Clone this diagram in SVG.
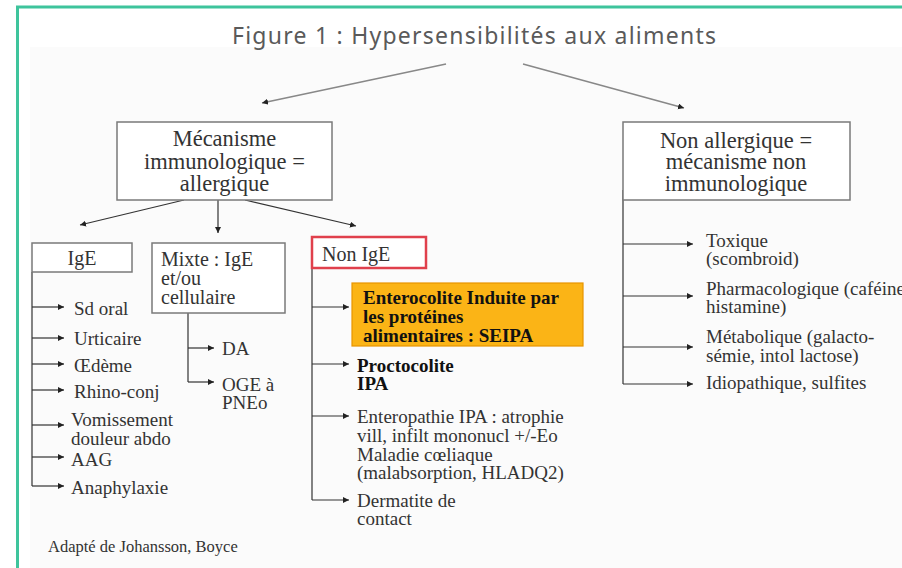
<svg xmlns="http://www.w3.org/2000/svg" width="902" height="568" viewBox="0 0 902 568">
<defs>
<marker id="ah" markerUnits="userSpaceOnUse" markerWidth="8" markerHeight="8" refX="6" refY="3" orient="auto">
<path d="M0,0 L6,3 L0,6 Z" fill="#222"/>
</marker>
<style>
.box{fill:#fff;stroke:#7a7a7a;stroke-width:1.5}
.t{font-family:"Liberation Serif","Times New Roman",serif;fill:#333}
.big{font-size:22.5px}
.mid{font-size:20px}
.sm{font-size:19px}
.b{font-weight:bold;fill:#111}
.c{stroke:#333;stroke-width:1.2;fill:none}
.ca{stroke:#333;stroke-width:1.2;fill:none;marker-end:url(#ah)}
.ta{stroke:#888;stroke-width:1.6;fill:none;marker-end:url(#ah)}
</style>
</defs>
<rect width="902" height="568" fill="#fff"/>
<rect x="30" y="47" width="872" height="521" fill="#fbfbfb"/>
<path d="M17.5,568 V7 H902" fill="none" stroke="#3ec49c" stroke-width="3"/>
<text x="232" y="44" textLength="484" font-family="'Noto Sans',sans-serif" font-size="23" fill="#5a5a5a">Figure 1 : Hypersensibilités aux aliments</text>

<g id="connectors">
<line class="ta" x1="446" y1="64" x2="262" y2="103"/>
<line class="ta" x1="523" y1="64" x2="684" y2="108"/>
<line class="ca" x1="184" y1="200" x2="80" y2="225"/>
<line class="ca" x1="218" y1="200" x2="218" y2="233"/>
<line class="ca" x1="245" y1="200" x2="356" y2="226"/>
<!-- IgE -->
<line class="c" x1="32" y1="272" x2="32" y2="486"/>
<line class="ca" x1="32" y1="307" x2="64" y2="307"/>
<line class="ca" x1="32" y1="338" x2="64" y2="338"/>
<line class="ca" x1="32" y1="364" x2="64" y2="364"/>
<line class="ca" x1="32" y1="390" x2="64" y2="390"/>
<line class="ca" x1="32" y1="425" x2="64" y2="425"/>
<line class="ca" x1="32" y1="457" x2="64" y2="457"/>
<line class="ca" x1="32" y1="486" x2="64" y2="486"/>
<!-- Mixte -->
<line class="c" x1="188" y1="313" x2="188" y2="382"/>
<line class="ca" x1="188" y1="348" x2="214" y2="348"/>
<line class="ca" x1="188" y1="382" x2="214" y2="382"/>
<!-- Non IgE -->
<line class="c" x1="312" y1="268" x2="312" y2="500"/>
<line class="ca" x1="312" y1="307" x2="349" y2="307"/>
<line class="ca" x1="312" y1="364" x2="349" y2="364"/>
<line class="ca" x1="312" y1="416" x2="349" y2="416"/>
<line class="ca" x1="312" y1="500" x2="349" y2="500"/>
<!-- Non allergique -->
<line class="c" x1="623" y1="190" x2="623" y2="384"/>
<line class="ca" x1="623" y1="244" x2="693" y2="244"/>
<line class="ca" x1="623" y1="296" x2="693" y2="296"/>
<line class="ca" x1="623" y1="347" x2="693" y2="347"/>
<line class="ca" x1="623" y1="384" x2="693" y2="384"/>
</g>

<g id="n-meca">
<rect class="box" x="117" y="122" width="215" height="78"/>
<text class="t big" text-anchor="middle" x="224.5" y="146">Mécanisme</text>
<text class="t big" text-anchor="middle" x="224.5" y="169">immunologique =</text>
<text class="t big" text-anchor="middle" x="224.5" y="191">allergique</text>
</g>

<g id="n-nonallerg">
<rect class="box" x="623" y="122" width="227" height="78"/>
<text class="t big" text-anchor="middle" x="736" y="148">Non allergique =</text>
<text class="t big" text-anchor="middle" x="736" y="169">mécanisme non</text>
<text class="t big" text-anchor="middle" x="736" y="191">immunologique</text>
</g>

<g id="n-ige">
<rect class="box" x="32" y="243" width="100" height="29"/>
<text class="t mid" text-anchor="middle" x="82" y="265">IgE</text>
</g>

<g id="n-mixte">
<rect class="box" x="152" y="243" width="133" height="70"/>
<text class="t mid" x="161" y="266">Mixte : IgE</text>
<text class="t mid" x="161" y="285">et/ou</text>
<text class="t mid" x="161" y="304">cellulaire</text>
</g>

<g id="n-nonige">
<rect x="312" y="237" width="114" height="31" fill="#fff" stroke="#e0404c" stroke-width="2.5"/>
<text class="t mid" x="322" y="261">Non IgE</text>
</g>

<g id="n-ige-items">
<text class="t sm" x="74" y="315">Sd oral</text>
<text class="t sm" x="74" y="345">Urticaire</text>
<text class="t sm" x="74" y="372">Œdème</text>
<text class="t sm" x="74" y="398">Rhino-conj</text>
<text class="t sm" x="71" y="426">Vomissement</text>
<text class="t sm" x="71" y="445">douleur abdo</text>
<text class="t sm" x="71" y="466">AAG</text>
<text class="t sm" x="71" y="494">Anaphylaxie</text>
</g>

<g id="n-mixte-items">
<text class="t sm" x="222" y="355">DA</text>
<text class="t sm" x="222" y="391">OGE à</text>
<text class="t sm" x="222" y="409">PNEo</text>
</g>

<g id="n-seipa">
<rect x="352" y="283" width="231" height="63" fill="#fbb416" stroke="#e89400" stroke-width="1.2"/>
<text class="t sm b" x="363" y="304">Enterocolite Induite par</text>
<text class="t sm b" x="363" y="323">les protéines</text>
<text class="t sm b" x="363" y="342">alimentaires : SEIPA</text>
</g>

<g id="n-nonige-items">
<text class="t sm b" x="357" y="372">Proctocolite</text>
<text class="t sm b" x="357" y="390">IPA</text>
<text class="t sm" x="357" y="423">Enteropathie IPA : atrophie</text>
<text class="t sm" x="357" y="442">vill, infilt mononucl +/-Eo</text>
<text class="t sm" x="357" y="461">Maladie cœliaque</text>
<text class="t sm" x="357" y="479">(malabsorption, HLADQ2)</text>
<text class="t sm" x="357" y="507">Dermatite de</text>
<text class="t sm" x="357" y="525">contact</text>
</g>

<g id="n-nonallerg-items">
<text class="t sm" x="706" y="247">Toxique</text>
<text class="t sm" x="706" y="265">(scombroid)</text>
<text class="t sm" x="706" y="295">Pharmacologique (caféine</text>
<text class="t sm" x="706" y="313">histamine)</text>
<text class="t sm" x="706" y="343">Métabolique (galacto-</text>
<text class="t sm" x="706" y="362">sémie, intol lactose)</text>
<text class="t sm" x="706" y="389">Idiopathique, sulfites</text>
</g>

<text class="t" x="48" y="552" font-size="16.5" fill="#444">Adapté de Johansson, Boyce</text>
</svg>
